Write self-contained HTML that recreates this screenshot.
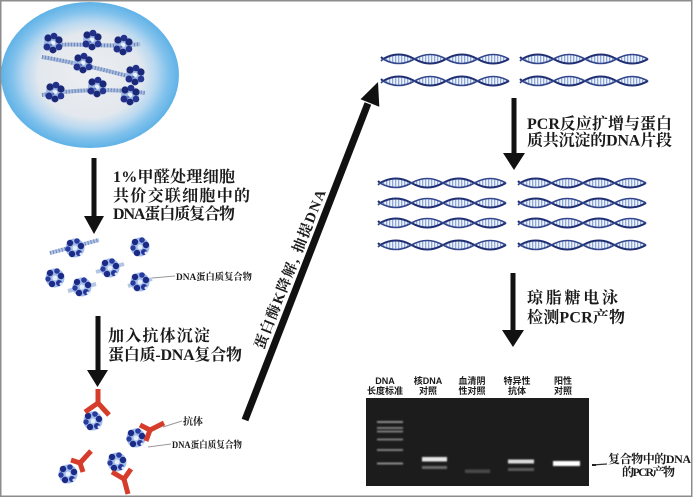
<!DOCTYPE html>
<html><head><meta charset="utf-8"><style>
html,body{margin:0;padding:0;background:#fff;}
svg{display:block;}
.t{font-family:"Liberation Serif","Noto Serif CJK SC",serif;font-weight:bold;fill:#1a1a1a;}
.s{font-family:"Liberation Sans","Noto Sans CJK SC",sans-serif;font-weight:bold;fill:#1a1a1a;}
</style></head><body>
<svg width="694" height="498" viewBox="0 0 694 498" xmlns="http://www.w3.org/2000/svg">
<defs>
<radialGradient id="cellg" cx="50%" cy="50%" r="50%">
<stop offset="0" stop-color="#eceef1"/>
<stop offset="0.58" stop-color="#e3e8ee"/>
<stop offset="0.74" stop-color="#b8d8f0"/>
<stop offset="0.87" stop-color="#82c2ec"/>
<stop offset="1" stop-color="#5fb2e7"/>
</radialGradient>
<pattern id="rung" width="3" height="12" patternUnits="userSpaceOnUse">
<rect width="3" height="12" fill="#eef3fb"/><rect width="1.3" height="12" fill="#8ea9d6"/>
</pattern>
<g id="nuc">
<circle r="9" fill="#9db7e2"/>
<circle cx="-5" cy="-5" r="3.6" fill="#1b2878"/>
<circle cx="1" cy="-7" r="3.3" fill="#22308a"/>
<circle cx="6" cy="-3" r="3.6" fill="#1b2878"/>
<circle cx="6" cy="4" r="3.3" fill="#263690"/>
<circle cx="0" cy="7" r="3.4" fill="#1b2878"/>
<circle cx="-6" cy="4" r="3.5" fill="#22308a"/>
<circle cx="0" cy="0" r="2.3" fill="#e9f0fa"/>
<circle cx="-2" cy="2" r="1.4" fill="#5c78c0"/>
</g>
<g id="nuc2">
<circle r="9.5" fill="#9fbbe6"/>
<circle cx="-5" cy="-5" r="3.2" fill="#1b2a86"/>
<circle cx="2" cy="-7" r="2.8" fill="#2a3ba0"/>
<circle cx="6" cy="-2" r="3.2" fill="#1b2a86"/>
<circle cx="4" cy="5" r="3" fill="#233399"/>
<circle cx="-3" cy="6" r="3.2" fill="#1b2a86"/>
<circle cx="-7" cy="1" r="2.7" fill="#2a3ba0"/>
<circle cx="0" cy="0" r="2.5" fill="#e6eefa"/>
<circle cx="6" cy="6" r="1.5" fill="#dfe8f8"/>
</g>
<g id="helix">
<path d="M0,0 Q15.75,-9 31.5,0 Q47.25,9 63,0 Q78.75,-9 94.5,0 Q110.25,9 126,0 Q110.25,-9 94.5,0 Q78.75,9 63,0 Q47.25,-9 31.5,0 Q15.75,9 0,0 Z" fill="url(#rung)"/>
<path d="M-2,-2 L0,0 Q15.75,-9 31.5,0 Q47.25,9 63,0 Q78.75,-9 94.5,0 Q110.25,9 126,0" fill="none" stroke="#1f2e72" stroke-width="2"/>
<path d="M-2,2 L0,0 Q15.75,9 31.5,0 Q47.25,-9 63,0 Q78.75,9 94.5,0 Q110.25,-9 126,0" fill="none" stroke="#33468c" stroke-width="1.6"/>
</g>
<filter id="bl" x="-20%" y="-100%" width="140%" height="300%"><feGaussianBlur stdDeviation="0.9"/></filter>
</defs>

<!-- frame -->
<rect x="0.75" y="0.75" width="691" height="495.5" fill="#fff" stroke="#8c8c8c" stroke-width="1.5"/>

<!-- cell -->
<ellipse cx="90" cy="75" rx="89" ry="73" fill="url(#cellg)"/>
<g fill="none" stroke-width="4">
<path d="M44,46 C70,42 110,48 140,44" stroke="#a8bcdc"/>
<path d="M42,57 C60,60 100,68 142,80" stroke="#a8bcdc"/>
<path d="M42,95 C70,90 110,88 145,93" stroke="#a8bcdc"/>
<path d="M44,46 C70,42 110,48 140,44" stroke="#6d86bd" stroke-dasharray="1 2"/>
<path d="M42,57 C60,60 100,68 142,80" stroke="#6d86bd" stroke-dasharray="1 2"/>
<path d="M42,95 C70,90 110,88 145,93" stroke="#6d86bd" stroke-dasharray="1 2"/>
</g>
<use href="#nuc" transform="translate(53,43)"/>
<use href="#nuc" transform="translate(92,40)"/>
<use href="#nuc" transform="translate(123,45)"/>
<use href="#nuc" transform="translate(83,63)"/>
<use href="#nuc" transform="translate(135,75)"/>
<use href="#nuc" transform="translate(55,92)"/>
<use href="#nuc" transform="translate(97,87)"/>
<use href="#nuc" transform="translate(130,95)"/>

<!-- arrow 1 -->
<rect x="91.5" y="158" width="5" height="62" fill="#111"/>
<polygon points="84,216 104,216 94,234" fill="#111"/>
<text class="t" font-size="16" x="113" y="182" textLength="122" lengthAdjust="spacing">1%甲醛处理细胞</text>
<text class="t" font-size="16" x="113" y="201" textLength="137" lengthAdjust="spacing">共价交联细胞中的</text>
<text class="t" font-size="16" x="113" y="219" textLength="122" lengthAdjust="spacing">DNA蛋白质复合物</text>

<!-- loose complexes -->
<g fill="none" stroke-width="4">
<path d="M50,253 L99,240" stroke="#b4c6e4"/>
<path d="M50,253 L99,240" stroke="#6d86bd" stroke-dasharray="1 2"/>
<path d="M96,272 L124,264" stroke="#b4c6e4"/>
<path d="M128,286 L152,279" stroke="#b4c6e4"/>
<path d="M68,291 L96,284" stroke="#b4c6e4"/>
</g>
<use href="#nuc2" transform="translate(75,248)"/>
<use href="#nuc2" transform="translate(140,247)"/>
<use href="#nuc2" transform="translate(110,268)"/>
<use href="#nuc2" transform="translate(140,282)"/>
<use href="#nuc2" transform="translate(82,287)"/>
<use href="#nuc2" transform="translate(55,278)"/>
<line x1="152" y1="278" x2="175" y2="276" stroke="#999" stroke-width="1"/>
<text class="t" font-size="9.5" x="176" y="280" textLength="76" lengthAdjust="spacingAndGlyphs">DNA蛋白质复合物</text>

<!-- arrow 2 -->
<rect x="95.5" y="316" width="5" height="57" fill="#111"/>
<polygon points="87,370 108,370 97.5,387" fill="#111"/>
<text class="t" font-size="16" x="108" y="341" textLength="102" lengthAdjust="spacing">加入抗体沉淀</text>
<text class="t" font-size="16" x="108" y="360" textLength="134" lengthAdjust="spacing">蛋白质-DNA复合物</text>

<!-- antibody complexes -->
<use href="#nuc2" transform="translate(93,421)"/>
<use href="#nuc2" transform="translate(136,438)"/>
<use href="#nuc2" transform="translate(68,474)"/>
<use href="#nuc2" transform="translate(117,462)"/>
<g stroke="#d63c2c" stroke-width="5" fill="none" stroke-linecap="butt">
<path d="M98,389 L98,403"/><path d="M98,403 L85,412"/><path d="M98,403 L109,415"/>
<path d="M150,430 L164,423"/><path d="M150,430 L140,425"/><path d="M150,430 L146,441"/>
<path d="M80,463 L91,451"/><path d="M80,463 L71,460"/><path d="M80,463 L83,472"/>
<path d="M124,479 L128,494"/><path d="M124,479 L112,472"/><path d="M124,479 L131,469"/>
</g>
<line x1="163" y1="427" x2="182" y2="421" stroke="#999" stroke-width="1"/>
<line x1="148" y1="447" x2="171" y2="444" stroke="#999" stroke-width="1"/>
<text class="t" font-size="10" x="183" y="425">抗体</text>
<text class="t" font-size="9.5" x="172" y="448" textLength="70" lengthAdjust="spacingAndGlyphs">DNA蛋白质复合物</text>

<!-- diagonal arrow -->
<polygon points="248.3,421.3 241.7,418.7 364.6,102.2 371.2,104.8" fill="#111"/>
<polygon points="379.3,106.8 360.5,99.2 378,82" fill="#111"/>
<g transform="translate(289.5,269) rotate(-68.46)">
<text class="t" font-size="14.5" x="0" y="5.5" text-anchor="middle" textLength="170" lengthAdjust="spacing">蛋白酶K降解, 抽提DNA</text>
</g>

<!-- top helices -->
<use href="#helix" transform="translate(383,59)"/>
<use href="#helix" transform="translate(522,59)"/>
<use href="#helix" transform="translate(383,81)"/>
<use href="#helix" transform="translate(522,81)"/>

<!-- arrow 3 -->
<rect x="511.5" y="98" width="5" height="58" fill="#111"/>
<polygon points="503,153 525,153 514,170" fill="#111"/>
<text class="t" font-size="16" x="527" y="129" textLength="145" lengthAdjust="spacing">PCR反应扩增与蛋白</text>
<text class="t" font-size="16" x="527" y="145.5" textLength="145" lengthAdjust="spacing">质共沉淀的DNA片段</text>

<!-- bottom helices -->
<use href="#helix" transform="translate(380,183)"/>
<use href="#helix" transform="translate(520,183)"/>
<use href="#helix" transform="translate(380,203)"/>
<use href="#helix" transform="translate(520,203)"/>
<use href="#helix" transform="translate(380,223)"/>
<use href="#helix" transform="translate(520,223)"/>
<use href="#helix" transform="translate(380,245)"/>
<use href="#helix" transform="translate(520,245)"/>

<!-- arrow 4 -->
<rect x="510.5" y="273" width="5" height="60" fill="#111"/>
<polygon points="502,330 524,330 513,347" fill="#111"/>
<text class="t" font-size="16" x="527" y="303" textLength="91" lengthAdjust="spacing">琼脂糖电泳</text>
<text class="t" font-size="16" x="527" y="322.5" textLength="98" lengthAdjust="spacing">检测PCR产物</text>

<!-- gel labels -->
<g class="s" font-size="9" text-anchor="middle">
<text x="385" y="384">DNA</text><text x="385" y="394">长度标准</text>
<text x="428" y="384">核DNA</text><text x="428" y="394">对照</text>
<text x="472" y="384">血清阴</text><text x="472" y="394">性对照</text>
<text x="517" y="384">特异性</text><text x="517" y="394">抗体</text>
<text x="563" y="384">阳性</text><text x="563" y="394">对照</text>
</g>

<!-- gel -->
<rect x="366" y="398" width="223" height="88" fill="#1c1c1c"/>
<g filter="url(#bl)">
<rect x="377" y="421" width="26" height="2" fill="#8a8a8a"/>
<rect x="377" y="427" width="26" height="2" fill="#7a7a7a"/>
<rect x="377" y="430.5" width="26" height="2" fill="#7a7a7a"/>
<rect x="377" y="438.5" width="26" height="2" fill="#7a7a7a"/>
<rect x="377" y="449" width="26" height="2" fill="#808080"/>
<rect x="377" y="462.5" width="26" height="2" fill="#8a8a8a"/>
<rect x="422" y="457" width="25" height="4.5" fill="#e6e6e6"/>
<rect x="422" y="466" width="25" height="3" fill="#6a6a6a"/>
<rect x="465" y="469.5" width="25" height="3.5" fill="#4a4a4a"/>
<rect x="508" y="459.5" width="26" height="4" fill="#dcdcdc"/>
<rect x="508" y="468" width="26" height="3" fill="#5a5a5a"/>
<rect x="553" y="461" width="27" height="5" fill="#ffffff"/>
</g>

<!-- pointer & label -->
<line x1="592" y1="465" x2="607" y2="464" stroke="#333" stroke-width="1.2"/>
<rect x="592" y="464" width="4" height="2" fill="#222"/>
<text class="t" font-size="12" x="608" y="463" textLength="83" lengthAdjust="spacing">复合物中的DNA</text>
<text class="t" font-size="12" x="622" y="476" textLength="53" lengthAdjust="spacing">的PCR产物</text>
</svg>
</body></html>
